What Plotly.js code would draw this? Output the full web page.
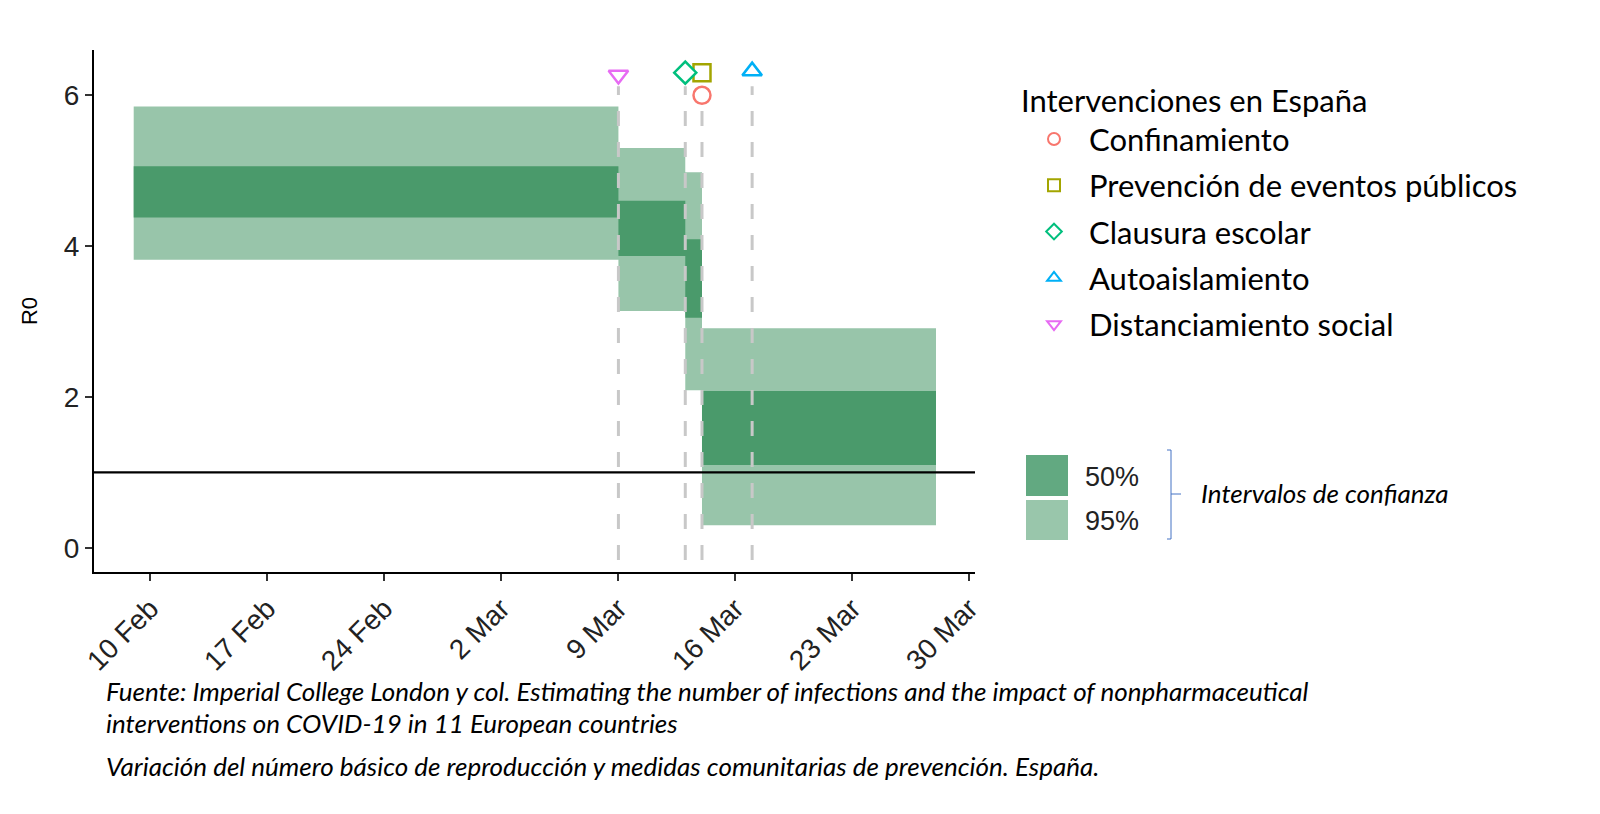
<!DOCTYPE html>
<html>
<head>
<meta charset="utf-8">
<script src="https://cdn.plot.ly/plotly-3.0.1.min.js"></script>
<style>html,body{margin:0;padding:0;background:#fff;}#chart{width:1600px;height:814px;}</style>
</head>
<body>
<div id="chart"></div>
<script>
// ---- Data ----
var segStart = ['2020-02-09', '2020-03-09', '2020-03-13', '2020-03-14'];
var segEnd   = ['2020-03-09', '2020-03-13', '2020-03-14', '2020-03-28'];
var ci95Low  = [3.82, 3.14, 2.09, 0.30];
var ci95High = [5.85, 5.30, 4.98, 2.91];
var ci50Low  = [4.38, 3.87, 3.05, 1.10];
var ci50High = [5.06, 4.60, 4.09, 2.08];

var interventionNames = ['Confinamiento', 'Prevención de eventos públicos', 'Clausura escolar', 'Autoaislamiento', 'Distanciamiento social'];
var interventionDates = ['2020-03-14', '2020-03-14', '2020-03-13', '2020-03-17', '2020-03-09'];
var interventionY     = [6.0, 6.3, 6.3, 6.32, 6.27];
var interventionSymbols = ['circle', 'square', 'diamond', 'triangle-up', 'triangle-down'];
var interventionColors  = ['#F8766D', '#A3A500', '#00BF7D', '#00B0F6', '#E76BF3'];

var dashedDates = ['2020-03-09', '2020-03-13', '2020-03-14', '2020-03-17'];
var dashedBottom = -0.16;
var dashedTop = 6.12;
var thresholdR = 1;

var xTickVals = ['2020-02-10', '2020-02-17', '2020-02-24', '2020-03-02', '2020-03-09', '2020-03-16', '2020-03-23', '2020-03-30'];
var xTickText = ['10 Feb', '17 Feb', '24 Feb', '2 Mar', '9 Mar', '16 Mar', '23 Mar', '30 Mar'];
var yTickVals = [0, 2, 4, 6];

// ---- Traces ----
var traces = [];
function band(lo, hi, color) {
  var xs = [], ys = [];
  for (var i = 0; i < segStart.length; i++) {
    xs.push(segStart[i], segEnd[i], segEnd[i], segStart[i], segStart[i], null);
    ys.push(lo[i], lo[i], hi[i], hi[i], lo[i], null);
  }
  return {x: xs, y: ys, type: 'scatter', mode: 'none', fill: 'toself', fillcolor: color,
          showlegend: false, hoverinfo: 'skip'};
}
traces.push(band(ci95Low, ci95High, '#98C5AA'));
traces.push(band(ci50Low, ci50High, '#4A9A6B'));

// dashed lines
dashedDates.forEach(function (d) {
  traces.push({x: [d, d], y: [dashedBottom, dashedTop], type: 'scatter', mode: 'lines',
    line: {color: '#C8C8C8', width: 3, dash: '15px,16px'}, showlegend: false, hoverinfo: 'skip'});
});

// threshold line
traces.push({x: ['2020-02-01', '2020-04-05'], y: [thresholdR, thresholdR], type: 'scatter', mode: 'lines',
  line: {color: '#000', width: 2.2}, showlegend: false, hoverinfo: 'skip'});

// intervention markers
for (var i = 0; i < interventionNames.length; i++) {
  traces.push({x: [interventionDates[i]], y: [interventionY[i]], type: 'scatter', mode: 'markers',
    name: interventionNames[i], legendgroup: 'g' + i,
    marker: {symbol: interventionSymbols[i], size: 17, color: '#FFFFFF', line: {width: 2.5, color: interventionColors[i]}}});
}

// ---- Layout ----
var L = 94, R = 975, T = 50, B = 572;
function px(x) { return (x - L) / (R - L); }
function py(y) { return (B - y) / (B - T); }

var shapes = [
  {type: 'rect', xref: 'paper', yref: 'paper', x0: px(1026), x1: px(1068), y0: py(496), y1: py(455), fillcolor: '#62A981', line: {width: 0}},
  {type: 'rect', xref: 'paper', yref: 'paper', x0: px(1026), x1: px(1068), y0: py(540), y1: py(500), fillcolor: '#99C6AB', line: {width: 0}},
  {type: 'path', xref: 'paper', yref: 'paper',
    path: 'M ' + px(1167) + ',' + py(450) + ' L ' + px(1171) + ',' + py(450) + ' L ' + px(1171) + ',' + py(539) + ' L ' + px(1167) + ',' + py(539),
    line: {color: '#4472C4', width: 1}},
  {type: 'line', xref: 'paper', yref: 'paper', x0: px(1171), x1: px(1181), y0: py(494), y1: py(494), line: {color: '#4472C4', width: 1}}
];

var capFont = {family: 'Lato, "Noto Sans", sans-serif', size: 26, color: '#000'};
var annotations = [
  {xref: 'paper', yref: 'paper', x: px(1083), y: py(477), text: '50%', showarrow: false, xanchor: 'left', yanchor: 'middle',
   font: {family: 'Liberation Sans, Arial, sans-serif', size: 27, color: '#222'}},
  {xref: 'paper', yref: 'paper', x: px(1083), y: py(521), text: '95%', showarrow: false, xanchor: 'left', yanchor: 'middle',
   font: {family: 'Liberation Sans, Arial, sans-serif', size: 27, color: '#222'}},
  {xref: 'paper', yref: 'paper', x: px(1199), y: py(493), text: '<i>Intervalos de confianza</i>', showarrow: false, xanchor: 'left', yanchor: 'middle',
   font: {family: 'Lato, "Noto Sans", sans-serif', size: 26, color: '#000'}},
  {xref: 'paper', yref: 'paper', x: px(104), y: py(691), text: '<i>Fuente: Imperial College London y col. Estimating the number of infections and the impact of nonpharmaceutical</i>', showarrow: false, xanchor: 'left', yanchor: 'middle', font: capFont},
  {xref: 'paper', yref: 'paper', x: px(104), y: py(723), text: '<i>interventions on COVID-19 in 11 European countries</i>', showarrow: false, xanchor: 'left', yanchor: 'middle', font: capFont},
  {xref: 'paper', yref: 'paper', x: px(104), y: py(766), text: '<i>Variación del número básico de reproducción y medidas comunitarias de prevención. España.</i>', showarrow: false, xanchor: 'left', yanchor: 'middle', font: capFont}
];

var layout = {
  width: 1600, height: 814,
  margin: {l: L, r: 1600 - R, t: T, b: 814 - B},
  paper_bgcolor: '#fff', plot_bgcolor: '#fff',
  showlegend: true,
  legend: {x: px(1019), y: py(72), xanchor: 'left', yanchor: 'top', bgcolor: 'rgba(0,0,0,0)',
    title: {text: 'Intervenciones en España', font: {family: 'Lato, "Noto Sans", sans-serif', size: 31, color: '#000'}},
    font: {family: 'Lato, "Noto Sans", sans-serif', size: 31, color: '#000'},
    tracegroupgap: 3, itemwidth: 60, itemsizing: 'constant'},
  xaxis: {type: 'date', range: ['2020-02-06 15:00', '2020-03-30 08:00'],
    tickvals: xTickVals, ticktext: xTickText, tickangle: -45,
    tickfont: {family: 'Liberation Sans, Arial, sans-serif', size: 28, color: '#222'},
    showgrid: false, zeroline: false, showline: true, linecolor: '#000', linewidth: 2,
    ticks: 'outside', ticklen: 7, tickwidth: 2, tickcolor: '#333'},
  yaxis: {range: [-0.32, 6.6], tickvals: yTickVals,
    tickfont: {family: 'Liberation Sans, Arial, sans-serif', size: 28, color: '#222'},
    showgrid: false, zeroline: false, showline: true, linecolor: '#000', linewidth: 2,
    ticks: 'outside', ticklen: 7, tickwidth: 2, tickcolor: '#333',
    title: {text: 'R0', font: {family: 'Liberation Sans, Arial, sans-serif', size: 22, color: '#000'}, standoff: 20}},
  shapes: shapes,
  annotations: annotations
};

Plotly.newPlot('chart', traces, layout, {displayModeBar: false, staticPlot: true});
</script>
</body>
</html>
